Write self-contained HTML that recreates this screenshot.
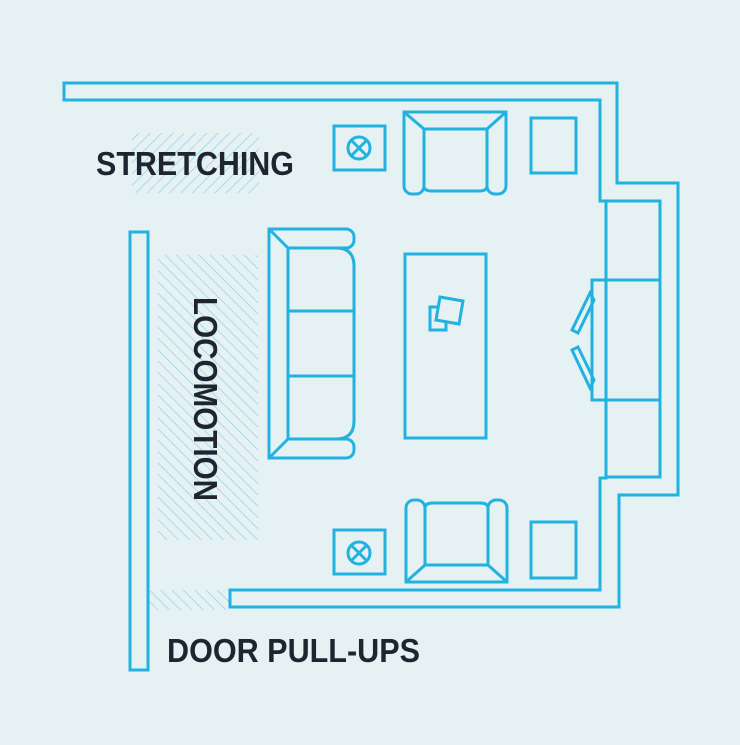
<!DOCTYPE html>
<html><head><style>html,body{margin:0;padding:0;background:#e5f1f3}</style></head>
<body>
<svg width="740" height="740" viewBox="0 0 740 740" xmlns="http://www.w3.org/2000/svg">
<defs>
<pattern id="h" width="8" height="8" patternUnits="userSpaceOnUse" patternTransform="rotate(45)">
<line x1="0" y1="0" x2="0" y2="8" stroke="#92d0e8" stroke-width="1.4"/>
</pattern>
<pattern id="h2" width="8" height="8" patternUnits="userSpaceOnUse" patternTransform="rotate(-45)">
<line x1="0" y1="0" x2="0" y2="8" stroke="#92d0e8" stroke-width="1.4"/>
</pattern>
</defs>
<rect width="740" height="740" fill="#e5f1f3"/>
<rect x="132" y="133" width="127" height="60" fill="url(#h)"/>
<rect x="158" y="255" width="100" height="285" fill="url(#h2)"/>
<rect x="149" y="590" width="80" height="20" fill="url(#h2)"/>
<g fill="none" stroke="#22b2df" stroke-width="3" stroke-linejoin="miter">
<polygon points="64,83 617,83 617,183 678,183 678,495 619,495 619,607 230,607 230,590 600,590 600,478 606,478 606,201 600,201 600,100 64,100"/>
<rect x="606" y="201" width="54" height="79"/>
<rect x="606" y="400" width="54" height="77"/>
<rect x="592" y="280" width="68" height="120"/>
<polygon points="590,293 594,300 578,333 572,330"/>
<polygon points="572,350 578,347 594,380 590,388"/>
<rect x="130" y="232" width="18" height="438"/>
<path d="M404,112 H506 V186 a8,8 0 0 1 -8,8 H495 a8,8 0 0 1 -8,-8 V129 H424 V186 a8,8 0 0 1 -8,8 H412 a8,8 0 0 1 -8,-8 Z"/>
<path d="M404,112 L424,129 M506,112 L487,129 M424,186 q0,5 8,5 H479 q8,0 8,-5"/>
<path d="M406,582 H507 V508 a8,8 0 0 0 -8,-8 H496 a8,8 0 0 0 -8,8 V565 H425 V508 a8,8 0 0 0 -8,-8 H414 a8,8 0 0 0 -8,8 Z"/>
<path d="M406,582 L425,565 M507,582 L488,565 M425,508 q0,-5 8,-5 H480 q8,0 8,5"/>
<rect x="531" y="118" width="45" height="55"/>
<rect x="531" y="522" width="45" height="56"/>
<rect x="334" y="126" width="51" height="44"/>
<circle cx="359" cy="148" r="11"/>
<path d="M351,140 L367,156 M367,140 L351,156"/>
<rect x="334" y="530" width="51" height="44"/>
<circle cx="359" cy="553" r="11"/>
<path d="M351,545 L367,561 M367,545 L351,561"/>
<path d="M269,229 H346 a8,8 0 0 1 8,8 V240 a8,8 0 0 1 -8,8 H288 V439 H346 a8,8 0 0 1 8,8 V450 a8,8 0 0 1 -8,8 H269 Z"/>
<path d="M269,229 L288,248 M269,458 L288,439 M336,248 q18,0 18,18 V421 q0,18 -18,18 M288,311 H354 M288,376 H354"/>
<rect x="405" y="254" width="81" height="184"/>
<rect x="430" y="307" width="16" height="23"/>
<polygon points="440,297 463,301 459,324 436,320" fill="#e5f1f3"/>
</g>
<g font-family="'Liberation Sans', sans-serif" font-weight="bold" fill="#1e2530" font-size="33">
<text x="96" y="175" textLength="198" lengthAdjust="spacingAndGlyphs">STRETCHING</text>
<text x="167" y="662" textLength="253" lengthAdjust="spacingAndGlyphs">DOOR PULL-UPS</text>
<text transform="translate(194,297) rotate(90)" textLength="204" lengthAdjust="spacingAndGlyphs">LOCOMOTION</text>
</g>
</svg>
</body></html>
